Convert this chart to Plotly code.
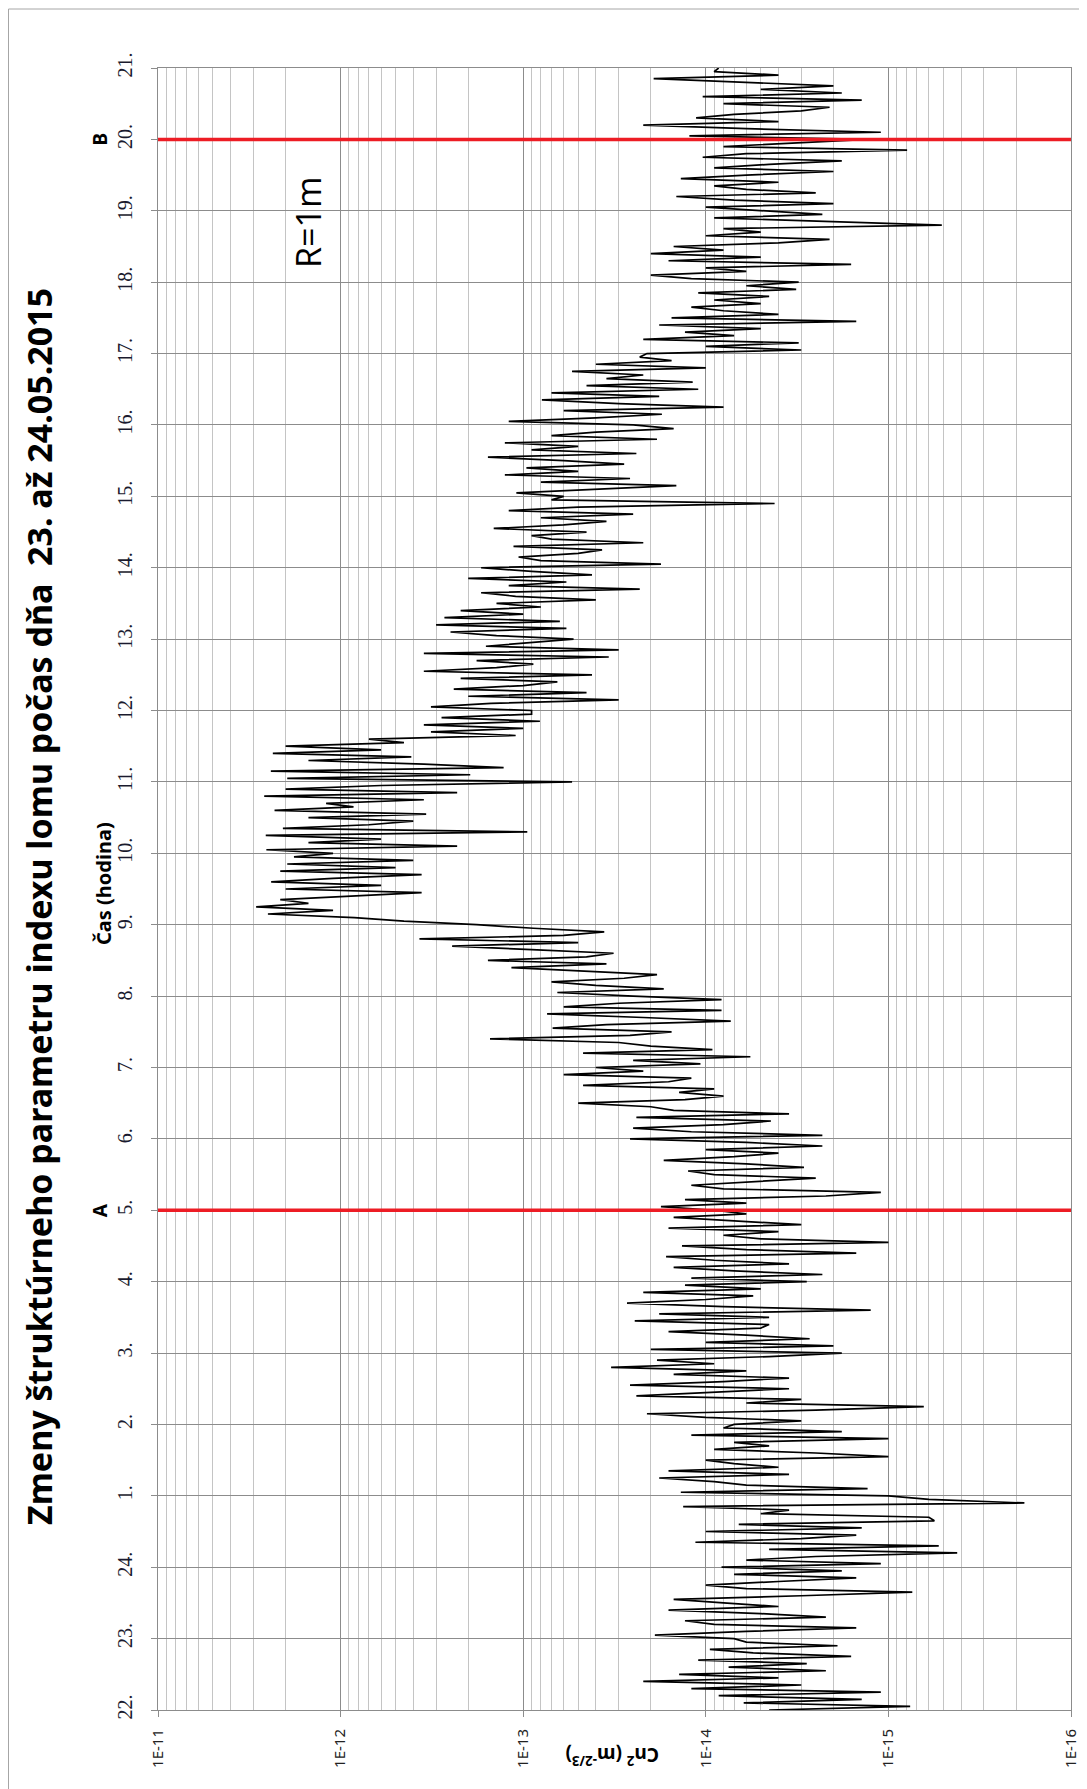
import plotly.graph_objects as go

# time axis: 22. (23rd) .. 21. (24th), hours counted past midnight as 24+h
hour_ticks = list(range(22, 46))
hour_labels = ["22.", "23.", "24."] + [f"{h}." for h in range(1, 22)]

decade_ticks = [1e-11, 1e-12, 1e-13, 1e-14, 1e-15, 1e-16]
decade_labels = ["1E-11", "1E-12", "1E-13", "1E-14", "1E-15", "1E-16"]

line_a_hour = 29   # 5.
line_b_hour = 44   # 20.

start_hour = 22
step_hour = 0.05   # 3 min samples

# Cn2 in units of 1E-14 m^-2/3
cn2_22_to_02 = [
    0.45, 0.076, 0.62, 0.14, 0.85, 0.11, 1.2, 0.30, 2.2, 0.40, 1.4, 0.22, 0.75, 0.28, 1.1, 0.16, 0.55, 0.95, 0.19, 0.6,
    0.7, 1.9, 0.6, 0.15, 0.9, 1.3, 0.22, 0.5, 1.6, 0.4, 0.8, 1.5, 0.3, 0.074, 0.6, 1.0, 0.4, 0.15, 0.7, 0.18,
    0.82, 0.11, 0.6, 0.25, 0.042, 0.45, 0.053, 1.14, 0.3, 0.15, 1.0, 0.14, 0.66, 0.056, 0.06, 0.5, 0.35, 1.33, 0.018, 0.06,
    0.1, 1.37, 0.13, 0.6, 0.9, 1.8, 0.35, 1.6, 0.4, 0.7, 1.0, 0.1, 0.25, 0.9, 0.45, 0.7, 0.1, 1.2, 0.18, 0.8,
]
cn2_02_to_06 = [
    0.7, 0.3, 1.0, 2.1, 0.25, 0.064, 0.6, 0.3, 2.4, 0.9, 0.35, 2.6, 0.8, 0.35, 1.5, 0.6, 3.3, 0.9, 1.85, 0.45,
    0.18, 2.0, 0.2, 1.0, 0.27, 0.6, 1.6, 0.5, 0.45, 2.45, 0.45, 1.8, 0.125, 0.8, 2.7, 1.0, 0.55, 2.2, 0.5, 1.3,
    0.28, 1.2, 0.23, 0.7, 1.5, 0.35, 0.9, 1.65, 0.15, 0.6, 1.35, 0.1, 0.5, 0.8, 0.4, 1.6, 0.3, 0.7, 1.5, 0.6,
    0.9, 1.76, 0.6, 1.3, 0.22, 0.11, 0.8, 1.2, 0.5, 0.25, 0.9, 1.25, 0.29, 0.6, 1.7, 0.7, 0.4, 1.0, 0.23, 0.6,
]
cn2_06_to_09 = [
    2.6, 0.23, 1.2, 2.5, 0.8, 0.44, 2.4, 0.35, 1.5, 2.0, 5.0, 1.3, 0.8, 1.4, 0.9, 4.7, 1.6, 1.2, 6.0, 2.2,
    4.0, 1.07, 2.5, 0.57, 4.7, 0.92, 2.0, 3.0, 15.2, 2.6, 1.54, 6.9, 3.5, 0.73, 2.2, 7.4, 0.82, 6.0, 3.0, 0.82,
    2.5, 6.5, 1.7, 4.0, 7.0, 2.8, 1.85, 5.0, 11.6, 3.5, 15.6, 4.5, 3.2, 9.0, 24.5, 5.0, 37, 6.0, 3.6, 8.8,
]
cn2_09_to_12 = [
    18, 45, 84, 250, 110, 290, 150, 214, 80, 36, 200, 60, 240, 110, 36, 214, 50, 196, 40, 180,
    110, 255, 23, 150, 60, 257, 9.5, 207, 70, 40, 150, 34, 230, 85, 120, 35, 262, 23, 200, 60,
    5.4, 196, 19.5, 241, 12.8, 35, 150, 41, 235, 60, 200, 45, 70, 11, 32, 10, 35, 8.1, 28, 9,
]
cn2_12_to_16 = [
    9, 32, 15, 3.0, 20, 4.5, 24, 10, 6.5, 22, 4.2, 35, 14, 8.8, 18, 3.4, 35, 3.0, 16, 9,
    5.3, 14, 25, 5.8, 30, 6.3, 27, 10, 22, 8, 14, 4.0, 11, 17, 2.3, 12, 5.8, 20, 4.2, 9,
    17, 1.76, 8, 10.6, 5, 3.7, 11.3, 2.2, 7, 9, 4.5, 14.5, 6, 3.5, 8, 2.5, 12, 5, 0.42, 7,
    6, 10.9, 4, 1.45, 8, 2.6, 12.6, 5, 9.6, 2.8, 6, 15.6, 2.4, 9, 5, 12.6, 1.85, 7, 4, 1.5,
]
cn2_16_to_21 = [
    2.5, 12, 4, 1.74, 6, 0.8, 3, 7.9, 1.8, 7, 1.1, 4.5, 1.18, 3.5, 2.2, 5.4, 1.0, 4, 1.54, 2.3,
    2.1, 0.3, 1.0, 0.31, 2.2, 0.7, 1.3, 0.5, 1.8, 0.15, 1.54, 0.4, 0.8, 1.2, 0.5, 0.9, 0.45, 1.1, 0.32, 0.6,
    0.31, 1.2, 2.0, 0.6, 1.0, 0.16, 1.6, 0.5, 2.0, 0.8, 1.5, 0.4, 0.21, 1.0, 0.5, 0.8, 0.051, 0.2, 0.9, 0.23,
    0.5, 1.0, 0.2, 0.7, 1.45, 0.25, 0.6, 0.9, 0.4, 1.37, 0.6, 0.2, 0.9, 0.45, 0.18, 1.04, 0.6, 0.079, 0.8, 0.3,
    0.13, 1.23, 0.11, 0.6, 2.2, 0.4, 1.13, 0.7, 0.3, 0.21, 0.8, 0.14, 1.04, 0.18, 0.5, 0.2, 0.7, 1.93, 0.4, 0.9,
    0.85,
]


def main():
    vals = cn2_22_to_02 + cn2_02_to_06 + cn2_06_to_09 + cn2_09_to_12 + cn2_12_to_16 + cn2_16_to_21
    cn2 = [v * 1e-14 for v in vals]
    hours = [start_hour + i * step_hour for i in range(len(cn2))]

    minor_vals = [d * 10.0 ** e for e in range(-16, -11) for d in range(2, 10)]

    # page is 1087x1789, the html body adds an 8px margin around the figure
    OFF = 8
    W, H = 1087 - OFF, 1789 - OFF
    L, R, T, B = 158 - OFF, 16, 68 - OFF, 79
    pw, ph = W - L - R, H - T - B

    # page pixel -> paper coords
    def px(x):
        return (x - OFF - L) / pw

    def py(y):
        return (H - B - (y - OFF)) / ph

    grey = "#8c8c8c"

    fig = go.Figure()
    fig.add_trace(go.Scatter(
        x=cn2, y=hours, mode="lines",
        line=dict(color="black", width=1.7),
        showlegend=False, hoverinfo="skip",
    ))

    fig.update_layout(
        width=W, height=H,
        margin=dict(l=L, r=R, t=T, b=B),
        paper_bgcolor="white", plot_bgcolor="white",
        xaxis=dict(
            type="log", range=[-11, -16], automargin=False,
            tickmode="array", tickvals=decade_ticks, ticktext=decade_labels,
            tickangle=-90, tickfont=dict(family="Noto Sans", size=15, color="#222"),
            ticklabeloverflow="allow",
            showgrid=True, gridcolor=grey, gridwidth=1.2,
            minor=dict(tickmode="array", tickvals=minor_vals, showgrid=True,
                       gridcolor="#c4c4c4", gridwidth=1.2, ticks=""),
            ticks="outside", ticklen=6, tickcolor=grey,
            showline=True, linecolor=grey, mirror=True, zeroline=False,
            ticklabelstandoff=6,
        ),
        yaxis=dict(
            range=[22, 45], automargin=False,
            tickmode="array", tickvals=hour_ticks, ticktext=hour_labels,
            tickangle=-90, tickfont=dict(family="Liberation Serif", size=20, color="#1a1a2e"),
            ticklabeloverflow="allow",
            showgrid=True, gridcolor=grey, gridwidth=1.2,
            ticks="outside", ticklen=6, tickcolor=grey,
            showline=True, linecolor=grey, mirror=True, zeroline=False,
            ticklabelstandoff=11,
        ),
    )

    red = "#ED1C24"
    for h in (line_a_hour, line_b_hour):
        fig.add_shape(type="line", xref="paper", yref="y", x0=0, x1=1, y0=h, y1=h,
                      line=dict(color=red, width=3.5))

    # outer chart border
    fig.add_shape(type="rect", xref="paper", yref="paper",
                  x0=px(8.5), x1=px(1085.5), y0=py(1800), y1=py(9),
                  line=dict(color="#a6a6a6", width=1))

    sans = "Noto Sans, sans-serif"

    def note(text, x, y, size, weight="bold", angle=-90, xref="paper", yref="paper", family=sans):
        fig.add_annotation(
            text=text, xref=xref, yref=yref, x=x, y=y, textangle=angle,
            xanchor="center", yanchor="middle", showarrow=False,
            font=dict(family=family, size=size, color="black", weight=weight),
        )

    note("Zmeny štruktúrneho parametru indexu lomu počas dňa \u00a023. až 24.05.2015",
         px(39), py(907), 34)
    note("Čas (hodina)", px(103), py(884), 20)
    for lbl, h in (("A", line_a_hour), ("B", line_b_hour)):
        note(lbl, px(100), h, 19, yref="y")
    note("R=1m", -11.82, 42.84, 34, weight=500, xref="x", yref="y", family="Open Sans, sans-serif")
    note("Cn<sup>2</sup> (m<sup>-2/3</sup>)", px(612), py(1756), 19, angle=180)

    fig.write_html("out.html")


if __name__ == "__main__":
    main()
